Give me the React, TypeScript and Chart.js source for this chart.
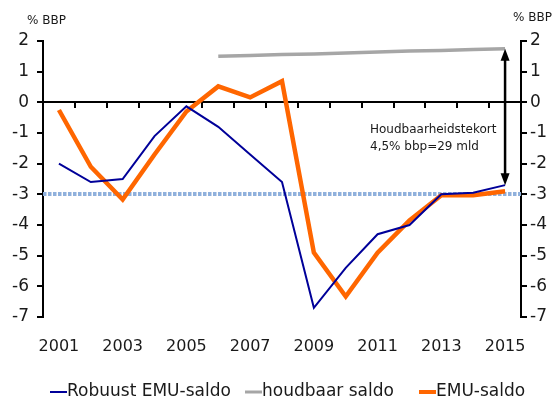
import React, { useEffect, useRef } from "react";
import { Chart, registerables } from "chart.js";

Chart.register(...registerables);

const years = ["2001","2002","2003","2004","2005","2006","2007","2008","2009","2010","2011","2012","2013","2014","2015"];
const robuustSaldo = [-2.0, -2.6, -2.5, -1.1, -0.13, -0.8, -1.7, -2.6, -6.7, -5.4, -4.3, -4.0, -3.0, -2.95, -2.7];
const houdbaarSaldo = [null, null, null, null, null, 1.5, 1.53, 1.56, 1.58, 1.61, 1.64, 1.67, 1.69, 1.72, 1.75];
const emuSaldo = [-0.25, -2.1, -3.17, -1.7, -0.3, 0.52, 0.16, 0.69, -4.9, -6.33, -4.9, -3.85, -3.03, -3.03, -2.9];
const referenceLevel = -3;
const yTicksMin = -7;
const yTicksMax = 2;
const axisTitle = "% BBP";
const annotationLines = ["Houdbaarheidstekort", "4,5% bbp=29 mld"];
const seriesNames = ["Robuust EMU-saldo", "houdbaar saldo", "EMU-saldo"];

const BLUE = "#000099";
const GRAY = "#a6a6a6";
const ORANGE = "#ff6600";
const TEXT = "#1a1a1a";
const FONT = "'DejaVu Sans', sans-serif";

const decorPlugin = {
  id: "decor",
  beforeDatasetsDraw(chart: any) {
    const { ctx, chartArea, scales } = chart;
    const y = scales.y;
    ctx.save();
    // dotted reference line
    const yr = Math.round(y.getPixelForValue(referenceLevel));
    ctx.strokeStyle = "#8fb0dc";
    ctx.lineWidth = 4;
    ctx.setLineDash([3.5, 1.5]);
    ctx.beginPath();
    ctx.moveTo(chartArea.left, yr);
    ctx.lineTo(chartArea.right, yr);
    ctx.stroke();
    ctx.setLineDash([]);
    // zero line with ticks
    const y0 = Math.round(y.getPixelForValue(0));
    ctx.strokeStyle = "#000";
    ctx.lineWidth = 2;
    ctx.beginPath();
    ctx.moveTo(chartArea.left, y0);
    ctx.lineTo(chartArea.right, y0);
    const step = (chartArea.right - chartArea.left) / years.length;
    for (let i = 1; i < years.length; i++) {
      const px = Math.round(chartArea.left + step * i);
      ctx.moveTo(px, y0);
      ctx.lineTo(px, y0 + 6);
    }
    ctx.stroke();
    ctx.restore();
  },
  afterDraw(chart: any) {
    const { ctx, scales } = chart;
    const x = scales.x;
    const y = scales.y;
    ctx.save();
    // axis titles
    ctx.fillStyle = TEXT;
    ctx.font = `12px ${FONT}`;
    ctx.textBaseline = "middle";
    ctx.textAlign = "left";
    ctx.fillText(axisTitle, 27, 21);
    ctx.textAlign = "right";
    ctx.fillText(axisTitle, 552, 18);
    // double arrow
    const ax = x.getPixelForValue(years.length - 1);
    const top = y.getPixelForValue(houdbaarSaldo[houdbaarSaldo.length - 1] as number);
    const bot = y.getPixelForValue(robuustSaldo[robuustSaldo.length - 1]);
    const hl = 12;
    const hw = 4.5;
    ctx.strokeStyle = "#000";
    ctx.fillStyle = "#000";
    ctx.lineWidth = 2.5;
    ctx.beginPath();
    ctx.moveTo(ax, top + hl - 1);
    ctx.lineTo(ax, bot - hl + 1);
    ctx.stroke();
    ctx.beginPath();
    ctx.moveTo(ax, top);
    ctx.lineTo(ax - hw, top + hl);
    ctx.lineTo(ax + hw, top + hl);
    ctx.closePath();
    ctx.fill();
    ctx.beginPath();
    ctx.moveTo(ax, bot);
    ctx.lineTo(ax - hw, bot - hl);
    ctx.lineTo(ax + hw, bot - hl);
    ctx.closePath();
    ctx.fill();
    // annotation text
    ctx.fillStyle = TEXT;
    ctx.font = `12px ${FONT}`;
    ctx.textAlign = "left";
    ctx.fillText(annotationLines[0], 370, 130);
    ctx.fillText(annotationLines[1], 370, 147);
    // legend
    const ly = 392;
    const items = [
      { name: seriesNames[0], color: BLUE, w: 2, x: 50 },
      { name: seriesNames[1], color: GRAY, w: 3, x: 245 },
      { name: seriesNames[2], color: ORANGE, w: 4, x: 419 },
    ];
    ctx.font = `17px ${FONT}`;
    for (const it of items) {
      ctx.strokeStyle = it.color;
      ctx.lineWidth = it.w;
      ctx.beginPath();
      ctx.moveTo(it.x, ly);
      ctx.lineTo(it.x + 17, ly);
      ctx.stroke();
      ctx.fillStyle = TEXT;
      ctx.fillText(it.name, it.x + 17, ly);
    }
    ctx.restore();
  },
};

export default function App() {
  const ref = useRef<HTMLCanvasElement | null>(null);
  useEffect(() => {
    document.body.style.margin = "0";
    const canvas = ref.current;
    if (!canvas) return;
    const yScaleBase = {
      type: "linear" as const,
      min: yTicksMin,
      max: yTicksMax,
      ticks: { stepSize: 1, color: TEXT, font: { family: FONT, size: 17 } },
      grid: { drawOnChartArea: false, drawTicks: true, tickLength: 6, color: "#000", lineWidth: 2 },
      border: { display: true, color: "#000", width: 2 },
    };
    const chart = new Chart(canvas, {
      type: "line",
      data: {
        labels: years,
        datasets: [
          { label: seriesNames[0], data: robuustSaldo, borderColor: BLUE, backgroundColor: BLUE, borderWidth: 2, pointRadius: 0, tension: 0, yAxisID: "y" },
          { label: seriesNames[1], data: houdbaarSaldo, borderColor: GRAY, backgroundColor: GRAY, borderWidth: 3.5, pointRadius: 0, tension: 0, yAxisID: "y" },
          { label: seriesNames[2], data: emuSaldo, borderColor: ORANGE, backgroundColor: ORANGE, borderWidth: 4.5, pointRadius: 0, tension: 0, yAxisID: "y" },
        ],
      },
      options: {
        responsive: false,
        animation: false,
        layout: { padding: { top: 41, left: 0, right: 0, bottom: 0 } },
        plugins: { legend: { display: false }, tooltip: { enabled: false } },
        scales: {
          x: {
            type: "category",
            offset: true,
            grid: { display: false, offset: true },
            border: { display: false },
            ticks: {
              autoSkip: false,
              maxRotation: 0,
              padding: 12,
              color: TEXT,
              font: { family: FONT, size: 16 },
              callback: (_v: any, i: number) => (i % 2 === 0 ? years[i] : ""),
            },
            afterFit: (s: any) => { s.height = 83; },
          },
          y: {
            ...yScaleBase,
            position: "left",
            ticks: { ...yScaleBase.ticks, padding: 8 },
            afterFit: (s: any) => { s.width = 43; },
          },
          y2: {
            ...yScaleBase,
            position: "right",
            ticks: { ...yScaleBase.ticks, padding: 3 },
            afterFit: (s: any) => { s.width = 35; },
          },
        },
      } as any,
      plugins: [decorPlugin],
    });
    return () => chart.destroy();
  }, []);
  return (
    <div style={{ width: 556, height: 400 }}>
      <canvas ref={ref} width={556} height={400} style={{ display: "block" }} />
    </div>
  );
}
